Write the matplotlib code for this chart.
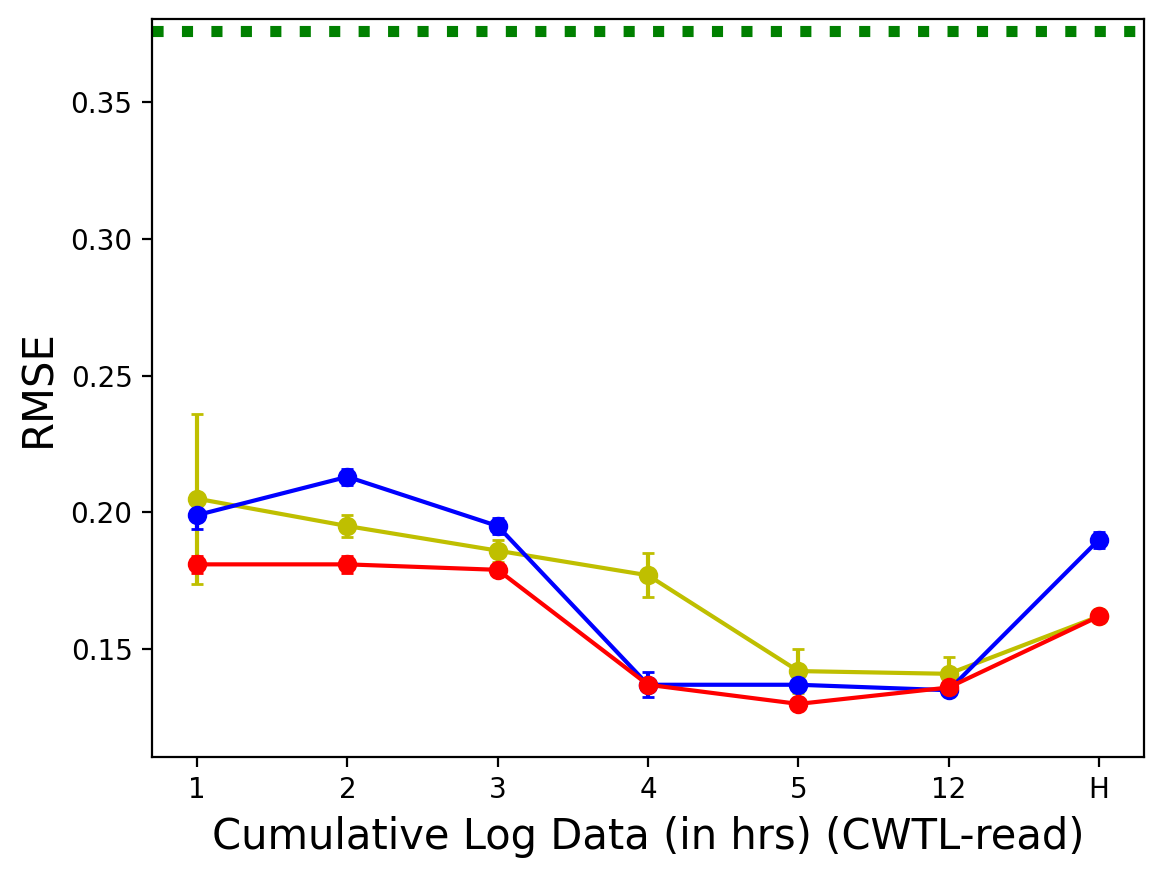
import matplotlib
matplotlib.use('Agg')
import matplotlib.pyplot as plt

labels = ['1', '2', '3', '4', '5', '12', 'H']

# yellow series
y_mean = [0.205, 0.195, 0.186, 0.177, 0.142, 0.141, 0.162]
y_err = [0.031, 0.004, 0.004, 0.008, 0.008, 0.006, 0.001]

# blue series
b_mean = [0.199, 0.213, 0.195, 0.137, 0.137, 0.135, 0.190]
b_err = [0.005, 0.003, 0.003, 0.0045, 0.002, 0.002, 0.003]

# red series
r_mean = [0.181, 0.181, 0.179, 0.137, 0.130, 0.136, 0.162]
r_err = [0.003, 0.003, 0.002, 0.002, 0.002, 0.002, 0.001]

baseline = 0.376

fig = plt.figure(figsize=(5.82, 4.385), dpi=200)
ax = fig.add_axes([152 / 1164, 120 / 877, 992 / 1164, 738 / 877])

x = list(range(len(labels)))
ax.errorbar(x, y_mean, yerr=y_err, color='y', marker='o', capsize=2)
ax.errorbar(x, b_mean, yerr=b_err, color='b', marker='o', capsize=2)
ax.errorbar(x, r_mean, yerr=r_err, color='r', marker='o', capsize=2)
ax.axhline(baseline, color='g', linestyle=':', linewidth=4)

ax.set_xticks(x)
ax.set_xticklabels(labels)
ax.set_xlim(-0.3, 6.3)
ax.set_ylim(0.1106, 0.3803)
ax.set_yticks([0.15, 0.20, 0.25, 0.30, 0.35])
ax.set_xlabel('Cumulative Log Data (in hrs) (CWTL-read)', fontsize=15)
ax.set_ylabel('RMSE', fontsize=15)

fig.savefig('out.png', dpi=200)
